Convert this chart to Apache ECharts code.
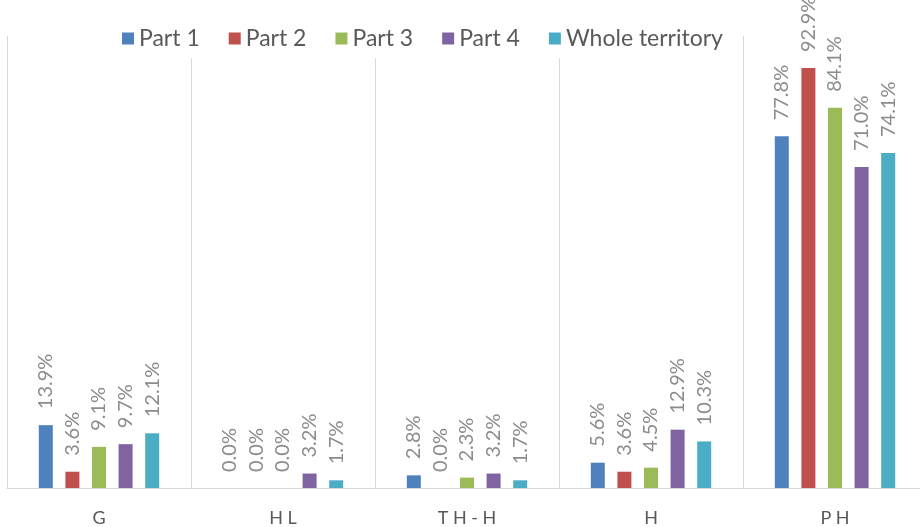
<!DOCTYPE html>
<html>
<head>
<meta charset="utf-8">
<script src="https://cdn.jsdelivr.net/npm/echarts@6/dist/echarts.min.js"></script>
<style>
  html, body { margin: 0; padding: 0; background: #ffffff; overflow: hidden; }
  /* the plot runs slightly past the right edge of the window */
  #chart { width: 927px; height: 527px; }
</style>
</head>
<body>
<div id="chart"></div>
<script>
// Share of each class per part of the territory (%)
const categories = ['G', 'H L', 'T H - H', 'H', 'P H'];
const seriesNames = ['Part 1', 'Part 2', 'Part 3', 'Part 4', 'Whole territory'];
const part1 = [13.9, 0.0, 2.8, 5.6, 77.8];
const part2 = [3.6, 0.0, 0.0, 3.6, 92.9];
const part3 = [9.1, 0.0, 2.3, 4.5, 84.1];
const part4 = [9.7, 3.2, 3.2, 12.9, 71.0];
const wholeTerritory = [12.1, 1.7, 1.7, 10.3, 74.1];

const values = [part1, part2, part3, part4, wholeTerritory];
const colors = ['#4F81BD', '#C0504D', '#9BBB59', '#8064A2', '#4BACC6'];
const font = 'Lato, "Open Sans", "Liberation Sans", sans-serif';

const chart = echarts.init(document.getElementById('chart'), null, { renderer: 'canvas' });

chart.setOption({
  animation: false,
  backgroundColor: '#ffffff',
  color: colors,
  legend: {
    data: seriesNames,
    top: 25,
    left: 116,
    itemWidth: 12,
    itemHeight: 12,
    itemGap: 29,
    icon: 'rect',
    backgroundColor: '#ffffff',
    padding: [2, 6, 8, 6],
    textStyle: { color: '#595959', fontSize: 23, fontFamily: font }
  },
  grid: { left: 7, right: 0, top: 36, bottom: 38, containLabel: false },
  xAxis: {
    type: 'category',
    data: categories,
    axisLine: { lineStyle: { color: '#d9d9d9', width: 1 } },
    axisTick: { show: false },
    splitLine: { show: true, lineStyle: { color: '#d9d9d9', width: 1 } },
    axisLabel: { color: '#595959', fontSize: 18, fontFamily: font, margin: 21 }
  },
  yAxis: {
    type: 'value',
    min: 0,
    max: 100,
    show: false,
    splitLine: { show: false }
  },
  series: seriesNames.map((name, i) => ({
    name: name,
    type: 'bar',
    data: values[i],
    barWidth: 14,
    barGap: '90%',
    label: {
      show: true,
      position: 'top',
      rotate: 90,
      align: 'left',
      verticalAlign: 'middle',
      distance: 16,
      color: '#8c8c8c',
      fontSize: 20,
      fontFamily: font,
      formatter: p => p.value.toFixed(1) + '%'
    }
  }))
});
</script>
</body>
</html>
